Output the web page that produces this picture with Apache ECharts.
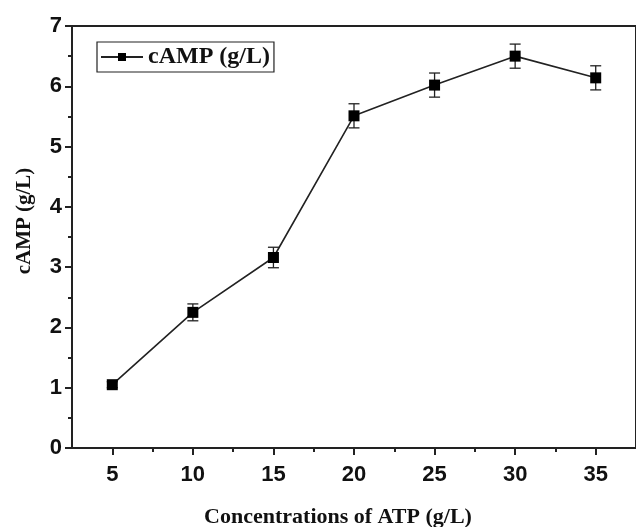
<!DOCTYPE html>
<html>
<head>
<meta charset="utf-8">
<script src="https://cdn.jsdelivr.net/npm/echarts@6/dist/echarts.min.js"></script>
<style>
  html, body { margin: 0; padding: 0; background: #fff; }
  #main { width: 636px; height: 527px; }
</style>
</head>
<body>
<div id="main"></div>
<script>
// 数据
var atp = [5, 10, 15, 20, 25, 30, 35];
var camp = [1.05, 2.25, 3.16, 5.51, 6.02, 6.50, 6.14];
var campErr = [0.05, 0.14, 0.17, 0.20, 0.20, 0.20, 0.20];
var xMajorTicks = [5, 10, 15, 20, 25, 30, 35];
var xMinorTicks = [7.5, 12.5, 17.5, 22.5, 27.5, 32.5];

function chart() {
  var myChart = echarts.init(document.getElementById('main'));
  window.addEventListener('resize', () => myChart.resize(), false);

  var lineData = atp.map((x, i) => [x, camp[i]]);
  var errData = atp.map((x, i) => [x, camp[i] - campErr[i], camp[i] + campErr[i]]);

  var sans = 'Liberation Sans';
  var serif = 'Liberation Serif';

  var option = {
    backgroundColor: '#fff',
    animation: false,
    grid: {
      left: 72,
      top: 26,
      right: 0,
      bottom: 79,
      outerBoundsMode: 'none',
      show: true,
      borderColor: '#222',
      borderWidth: 2
    },
    legend: {
      left: 97,
      top: 42,
      orient: 'vertical',
      data: ['cAMP (g/L)'],
      itemWidth: 42,
      itemHeight: 10,
      itemGap: 0,
      padding: [3, 4, 3, 3],
      borderColor: '#222',
      borderWidth: 1.2,
      borderRadius: 0,
      textStyle: {
        fontFamily: serif,
        fontWeight: 'bold',
        fontSize: 24,
        color: '#111'
      }
    },
    xAxis: [
      {
        type: 'value',
        min: 2.5,
        max: 37.5,
        name: 'Concentrations of ATP (g/L)',
        nameLocation: 'middle',
        nameGap: 58,
        nameTextStyle: { fontFamily: serif, fontWeight: 'bold', fontSize: 22, color: '#111', padding: [0, 32, 0, 0] },
        splitLine: { show: false },
        axisLine: { show: true, onZero: false, lineStyle: { color: '#222', width: 2 } },
        axisTick: { show: true, length: 7, customValues: xMajorTicks, lineStyle: { color: '#222', width: 2 } },
        axisLabel: {
          customValues: xMajorTicks,
          margin: 16,
          fontFamily: sans,
          fontWeight: 'bold',
          fontSize: 22,
          color: '#111'
        }
      },
      {
        type: 'value',
        position: 'bottom',
        min: 2.5,
        max: 37.5,
        splitLine: { show: false },
        axisLine: { show: false, onZero: false },
        axisTick: { show: true, length: 4, customValues: xMinorTicks, lineStyle: { color: '#222', width: 2 } },
        axisLabel: { show: false }
      }
    ],
    yAxis: {
      type: 'value',
      min: 0,
      max: 7,
      interval: 1,
      name: 'cAMP (g/L)',
      nameLocation: 'middle',
      nameRotate: 90,
      nameGap: 37,
      nameTextStyle: { fontFamily: serif, fontWeight: 'bold', fontSize: 21, color: '#111', padding: [0, 0, 0, 32] },
      splitLine: { show: false },
      axisLine: { show: true, lineStyle: { color: '#222', width: 2 } },
      axisTick: { show: true, length: 7, lineStyle: { color: '#222', width: 2 } },
      minorTick: { show: true, splitNumber: 2, length: 4, lineStyle: { color: '#222', width: 2 } },
      axisLabel: {
        margin: 10,
        fontFamily: sans,
        fontWeight: 'bold',
        fontSize: 22,
        color: '#111'
      }
    },
    series: [
      {
        name: 'err',
        type: 'custom',
        z: 2,
        data: errData,
        renderItem: function (params, api) {
          var x = api.value(0);
          var lo = api.coord([x, api.value(1)]);
          var hi = api.coord([x, api.value(2)]);
          var w = 5.5;
          var style = { stroke: '#222', lineWidth: 1.3 };
          return {
            type: 'group',
            children: [
              { type: 'line', shape: { x1: lo[0], y1: lo[1], x2: hi[0], y2: hi[1] }, style: style },
              { type: 'line', shape: { x1: hi[0] - w, y1: hi[1], x2: hi[0] + w, y2: hi[1] }, style: style },
              { type: 'line', shape: { x1: lo[0] - w, y1: lo[1], x2: lo[0] + w, y2: lo[1] }, style: style }
            ]
          };
        }
      },
      {
        name: 'cAMP (g/L)',
        type: 'line',
        z: 3,
        data: lineData,
        symbol: 'rect',
        symbolSize: 11,
        itemStyle: { color: '#000' },
        lineStyle: { color: '#222', width: 1.6 }
      }
    ]
  };

  myChart.setOption(option);
}

window.onload = function () {
  chart();
};
</script>
</body>
</html>
